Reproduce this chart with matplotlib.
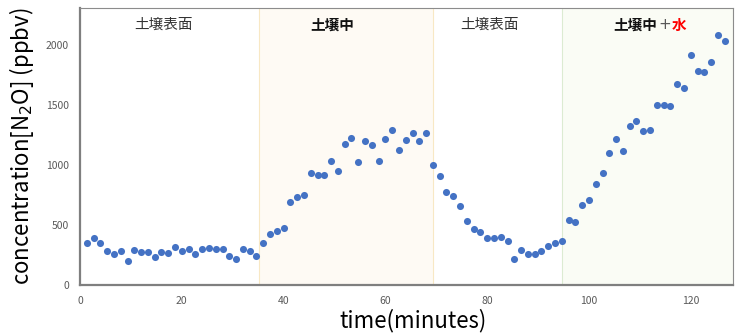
import matplotlib.pyplot as plt
import numpy as np

plt.rcParams['font.family'] = ['Noto Sans CJK JP', 'DejaVu Sans']
plt.rcParams['mathtext.fontset'] = 'dejavusans'

# 測定点 (80秒ごと)
idx = np.arange(1, 96)
time_min = idx * 4 / 3
n2o = [353, 389, 347, 286, 261, 281, 203, 292, 272, 272,
       233, 272, 268, 317, 281, 303, 261, 303, 311, 303,
       303, 242, 214, 300, 281, 245, 347, 428, 453, 475,
       689, 736, 747, 933, 914, 919, 1033, 947, 1172, 1228,
       1022, 1197, 1164, 1033, 1217, 1294, 1128, 1208, 1269, 1197,
       1264, 997, 905, 778, 742, 661, 536, 464, 439, 389,
       389, 400, 369, 214, 289, 261, 261, 283, 322, 347,
       364, 542, 528, 664, 706, 844, 933, 1097, 1217, 1119,
       1328, 1369, 1281, 1294, 1503, 1500, 1492, 1678, 1647, 1914,
       1783, 1775, 1861, 2089, 2031]

# 区間の境界
bounds = [35.2, 69.33, 94.67]
x_max = 128.3
y_max = 2310

fig = plt.figure(figsize=(7.35, 3.36), dpi=100)
ax = fig.add_axes([80 / 735, 51 / 336, 653 / 735, 277 / 336])

# 背景の色分け
ax.axvspan(bounds[0], bounds[1], facecolor='#fefaf4', edgecolor='#f8e8c4', linewidth=0.8, zorder=0)
ax.axvspan(bounds[2], x_max, facecolor='#fafcf5', edgecolor='#dcebd2', linewidth=0.8, zorder=0)

ax.scatter(time_min, n2o, s=26, color='#4472c4', zorder=3, linewidths=0)

ax.set_xlim(0, x_max)
ax.set_ylim(0, y_max)
ax.set_xticks([0, 20, 40, 60, 80, 100, 120])
ax.set_yticks([0, 500, 1000, 1500, 2000])
ax.tick_params(length=0, labelsize=7.5, labelcolor='#595959', pad=8)

for s in ['left', 'bottom']:
    ax.spines[s].set_color('#7f7f7f')
    ax.spines[s].set_linewidth(1.6)
for s in ['top', 'right']:
    ax.spines[s].set_color('#8c8c8c')
    ax.spines[s].set_linewidth(0.8)

ax.set_xlabel('time(minutes)', fontsize=16)
ax.xaxis.set_label_coords(0.51, -0.085)
ax.set_ylabel('concentration[N$_2$O] (ppbv)', fontsize=16)
ax.yaxis.set_label_coords(-0.068, 0.5)

# 区間ラベル
ty = 2170
ax.text(16.5, ty, '土壌表面', ha='center', va='center', fontsize=10.5, color='#333333')
ax.text(49.5, ty, '土壌中', ha='center', va='center', fontsize=10.5, fontweight='bold', color='#111111')
ax.text(80.5, ty, '土壌表面', ha='center', va='center', fontsize=10.5, color='#333333')
ax.text(113.4, ty, '土壌中', ha='right', va='center', fontsize=10.5, fontweight='bold', color='#111111')
ax.text(114.9, ty, '+', ha='center', va='center', fontsize=11, color='#595959', family='DejaVu Sans')
ax.text(116.3, ty, '水', ha='left', va='center', fontsize=10.5, fontweight='bold', color='#ff0000')

fig.savefig('out.png', dpi=100)
